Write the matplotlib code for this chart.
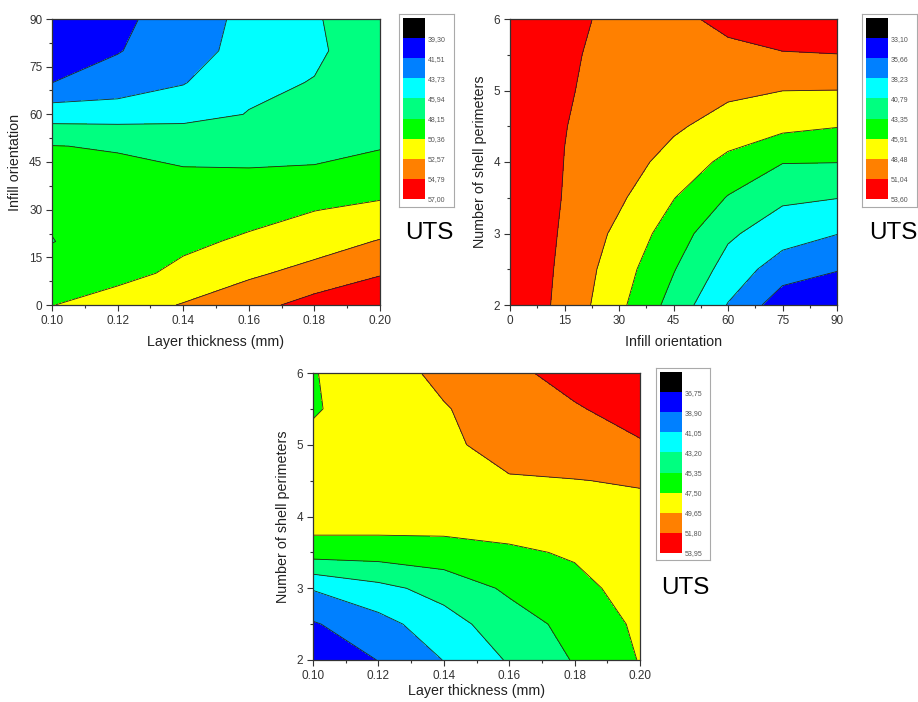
import numpy as np
import matplotlib
matplotlib.use('Agg')
import matplotlib.pyplot as plt
from matplotlib.ticker import MultipleLocator, FormatStrFormatter

plt.rcParams['font.family'] = ['Liberation Sans', 'DejaVu Sans']

# band colours, low -> high (Origin style)
band_colors = ['#000000', '#0000ff', '#0080ff', '#00ffff', '#00ff80',
               '#00ff00', '#ffff00', '#ff8000', '#ff0000']

# --- panel 1: layer thickness vs infill orientation
thick1 = [0.10, 0.12, 0.14, 0.16, 0.18, 0.20]
infill1 = [0, 10, 20, 30, 40, 50, 60, 70, 80, 90]
uts1 = [
    [50.3, 51.5, 52.7, 54.0, 55.6, 56.8],
    [49.0, 49.6, 50.9, 52.2, 53.3, 54.6],
    [48.1, 49.0, 49.9, 50.7, 51.6, 52.7],
    [48.4, 48.9, 49.3, 49.6, 50.3, 50.8],
    [48.5, 48.7, 48.5, 48.4, 48.4, 49.3],
    [48.2, 48.0, 47.5, 47.6, 47.8, 48.0],
    [45.0, 45.0, 45.3, 46.0, 47.0, 47.4],
    [41.5, 42.4, 43.6, 45.6, 46.0, 47.0],
    [40.5, 41.4, 42.7, 44.6, 45.7, 46.8],
    [39.8, 41.0, 42.6, 44.3, 45.8, 46.9],
]
levels1 = [37.09, 39.30, 41.51, 43.73, 45.94, 48.15, 50.36, 52.57, 54.79, 57.00]

# --- panel 2: infill orientation vs shell perimeters
infill2 = [0, 15, 30, 45, 60, 75, 90]
shells2 = [2.0, 2.5, 3.0, 3.5, 4.0, 4.5, 5.0, 5.5, 6.0]
uts2 = [
    [53.2, 50.3, 46.5, 42.4, 38.1, 34.2, 33.5],
    [53.2, 50.5, 47.1, 43.5, 39.8, 36.9, 35.8],
    [53.3, 50.7, 47.9, 44.65, 41.2, 39.4, 38.3],
    [53.3, 50.9, 48.9, 46.0, 43.2, 41.2, 40.85],
    [53.4, 51.0, 49.5, 47.7, 45.2, 43.45, 43.4],
    [53.4, 51.1, 50.0, 48.8, 47.6, 46.5, 46.0],
    [53.5, 51.2, 50.4, 49.7, 48.9, 48.5, 48.45],
    [53.5, 51.25, 50.6, 50.4, 50.6, 50.9, 51.0],
    [53.5, 51.6, 50.5, 50.6, 51.5, 52.3, 52.6],
]
levels2 = [30.54, 33.10, 35.66, 38.23, 40.79, 43.35, 45.91, 48.48, 51.04, 53.60]

# --- panel 3: layer thickness vs shell perimeters
thick3 = [0.10, 0.12, 0.14, 0.16, 0.18, 0.20]
shells3 = [2.0, 2.5, 3.0, 3.5, 4.0, 4.5, 5.0, 5.5, 6.0]
uts3 = [
    [37.2, 38.95, 41.1, 43.4, 45.5, 47.6],
    [38.7, 40.3, 42.3, 44.4, 46.0, 47.9],
    [41.2, 42.6, 44.0, 45.7, 47.0, 48.2],
    [46.3, 46.3, 46.6, 47.2, 47.7, 48.6],
    [48.8, 48.8, 48.6, 48.5, 48.7, 49.1],
    [48.5, 49.0, 49.2, 49.5, 49.6, 49.8],
    [48.0, 48.9, 49.3, 50.3, 50.7, 51.6],
    [47.3, 48.6, 49.5, 50.8, 51.6, 52.7],
    [47.4, 48.6, 50.2, 51.3, 52.6, 53.5],
]
levels3 = [34.60, 36.75, 38.90, 41.05, 43.20, 45.35, 47.50, 49.65, 51.80, 53.95]

W, H = 918, 702
fig = plt.figure(figsize=(W / 100, H / 100), dpi=100)


def rect(x0, y0, x1, y1):
    # pixel box -> figure fraction
    return [x0 / W, 1 - y1 / H, (x1 - x0) / W, (y1 - y0) / H]


def panel(ax_box, leg_box, bar_box, uts_pos, x, y, z, levels,
          xlabel, ylabel, xmaj, ymaj, xfmt, xpad=6):
    ax = fig.add_axes(rect(*ax_box))
    cs = ax.contourf(x, y, z, levels=levels, colors=band_colors)
    ax.contour(x, y, z, levels=levels[1:-1], colors='#222222', linewidths=0.6)
    ax.set_xlim(x[0], x[-1])
    ax.set_ylim(y[0], y[-1])
    ax.xaxis.set_major_locator(MultipleLocator(xmaj))
    ax.xaxis.set_minor_locator(MultipleLocator(xmaj / 2))
    ax.yaxis.set_major_locator(MultipleLocator(ymaj))
    ax.yaxis.set_minor_locator(MultipleLocator(ymaj / 2))
    ax.xaxis.set_major_formatter(FormatStrFormatter(xfmt))
    ax.tick_params(which='both', direction='out', top=False, right=False,
                   width=0.8, labelsize=8.5, colors='#333333')
    ax.tick_params(which='major', length=4, pad=3)
    ax.tick_params(which='minor', length=2)
    for s in ax.spines.values():
        s.set_linewidth(0.9)
        s.set_color('#333333')
    ax.set_xlabel(xlabel, fontsize=10.3, color='#222222', labelpad=xpad)
    ax.set_ylabel(ylabel, fontsize=10.3, color='#222222', labelpad=5)

    box = fig.add_axes(rect(*leg_box))
    box.set_xticks([])
    box.set_yticks([])
    for s in box.spines.values():
        s.set_color('#aaaaaa')
        s.set_linewidth(0.8)

    cax = fig.add_axes(rect(*bar_box))
    cb = fig.colorbar(cs, cax=cax, ticks=levels[1:])
    cb.outline.set_visible(False)
    cax.invert_yaxis()
    cb.set_ticklabels([f'{v:.2f}'.replace('.', ',') for v in levels[1:]])
    cax.tick_params(length=0, labelsize=5, pad=2, colors='#555555')

    fig.text(uts_pos[0] / W, 1 - uts_pos[1] / H, 'UTS', fontsize=17.5,
             ha='center', va='center')


panel((52, 19, 380, 305), (399, 14, 454, 207), (403, 18, 425, 199), (429, 233),
      thick1, infill1, uts1, levels1,
      'Layer thickness (mm)', 'Infill orientation', 0.02, 15, '%.2f')
panel((510, 19, 837, 305), (862, 14, 917, 207), (866, 18, 888, 199), (893, 233),
      infill2, shells2, uts2, levels2,
      'Infill orientation', 'Number of shell perimeters', 15, 1, '%d')
panel((313, 373, 640, 660), (656, 368, 710, 560), (660, 372, 682, 553), (685, 588),
      thick3, shells3, uts3, levels3,
      'Layer thickness (mm)', 'Number of shell perimeters', 0.02, 1, '%.2f',
      xpad=2)

fig.savefig('out.png', dpi=100)
